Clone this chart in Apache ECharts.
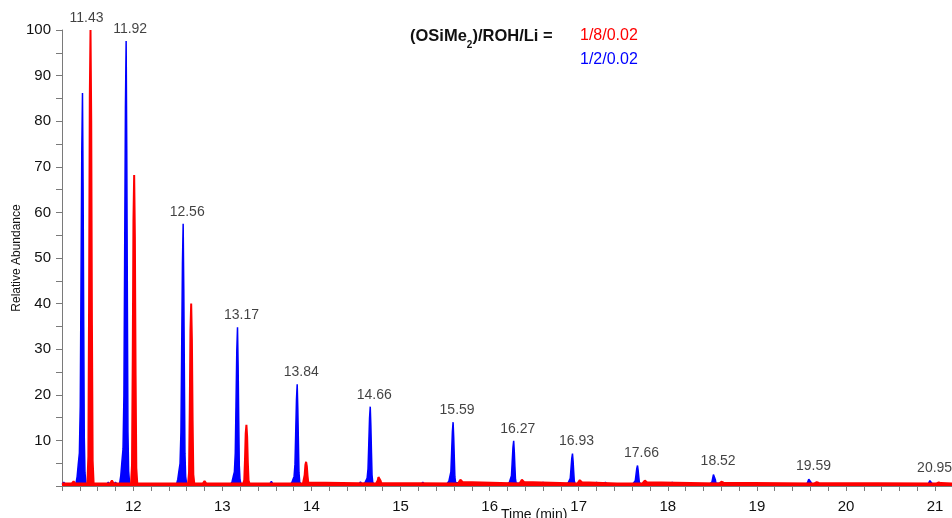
<!DOCTYPE html>
<html>
<head>
<meta charset="utf-8">
<script src="https://cdn.jsdelivr.net/npm/echarts@6/dist/echarts.min.js"></script>
<style>
  html, body { margin: 0; padding: 0; background: #ffffff; }
  #chart { width: 952px; height: 518px; }
</style>
</head>
<body>
<div id="chart"></div>
<script>
// Retention times (min) and apex abundances of the two chromatograms
const blueTimes = [11.43, 11.92, 12.56, 13.17, 13.84, 14.66, 15.59, 16.27, 16.93, 17.66, 18.52, 19.59, 20.95];
const blueApex  = [86.2, 97.6, 57.5, 34.8, 22.3, 17.4, 14.0, 9.9, 7.1, 4.5, 2.9, 1.7, 1.3];
const redTimes  = [11.52, 12.01, 12.65, 13.27, 13.94, 14.76, 15.68, 16.37, 17.02, 17.75, 18.61, 19.68, 21.05];
const redApex   = [100, 68.2, 40.0, 13.4, 5.3, 2.2, 1.5, 1.5, 1.4, 1.3, 1.0, 0.9, 0.8];

// Small baseline bumps (time, abundance)
const blueNoiseTimes = [11.22, 11.72, 11.80, 12.30, 13.55, 14.55, 15.25, 16.60, 17.20, 17.30, 18.05, 18.15];
const blueNoiseApex  = [0.8, 0.8, 0.8, 0.6, 1.0, 0.9, 0.8, 0.8, 0.8, 0.8, 0.8, 0.7];
const redNoiseTimes  = [11.33, 11.76, 12.80, 17.45];
const redNoiseApex   = [1.0, 1.2, 1.1, 0.8];

// Peak profiles: offset from apex (min) and fraction of apex height
const blueProfileDx = [-0.075, -0.06, -0.048, -0.035, -0.025, -0.017, -0.008, 0, 0.007, 0.014, 0.02, 0.028, 0.04];
const blueProfileFr = [0, 0.02, 0.05, 0.08, 0.2, 0.5, 0.85, 1, 0.75, 0.4, 0.12, 0.03, 0];
const redProfileDx  = [-0.035, -0.024, -0.016, -0.008, 0, 0.008, 0.016, 0.024, 0.035];
const redProfileFr  = [0, 0.06, 0.4, 0.85, 1, 0.8, 0.35, 0.05, 0];
const bumpProfileDx = [-0.02, 0, 0.02];
const bumpProfileFr = [0, 1, 0];

const xMin = 11.2, xMax = 21.19;
const blueBase = 0.35, redBase = 0.55;

function buildTrace(base, times, apex, dx, fr, noiseT, noiseA) {
  const pts = [[xMin, base]];
  const add = (t, a, ddx, ffr) => {
    for (let i = 0; i < ddx.length; i++) {
      pts.push([t + ddx[i], base + (a - base) * ffr[i]]);
    }
  };
  times.forEach((t, i) => add(t, apex[i], dx, fr));
  noiseT.forEach((t, i) => add(t, noiseA[i], bumpProfileDx, bumpProfileFr));
  pts.push([xMax, base]);
  pts.sort((a, b) => a[0] - b[0]);
  return pts.filter(p => p[0] >= xMin && p[0] <= xMax);
}

const blueTrace = buildTrace(blueBase, blueTimes, blueApex, blueProfileDx, blueProfileFr, blueNoiseTimes, blueNoiseApex);
const redTrace = buildTrace(redBase, redTimes, redApex, redProfileDx, redProfileFr, redNoiseTimes, redNoiseApex);

// Peak annotations sit above the taller of each blue/red pair
const peakLabels = blueTimes.map((t, i) => [t, Math.max(blueApex[i], redApex[i])]);

const axisGray = '#7a7a7a';
const textColor = '#111111';
const fontFamily = '"Liberation Sans", Arial, sans-serif';

const chart = echarts.init(document.getElementById('chart'), null, { renderer: 'canvas' });
chart.setOption({
  animation: false,
  backgroundColor: '#ffffff',
  grid: { left: 62, top: 30, right: 0, bottom: 32, containLabel: false },
  xAxis: {
    type: 'value',
    min: xMin,
    max: xMax,
    interval: 0.2,
    axisLine: { show: true, lineStyle: { color: axisGray, width: 1 } },
    axisTick: { show: true, length: 5, lineStyle: { color: axisGray } },
    splitLine: { show: false },
    axisLabel: {
      margin: 13,
      color: textColor,
      fontSize: 15,
      fontFamily: fontFamily,
      showMaxLabel: false,
      formatter: function (v) {
        const r = Math.round(v);
        return Math.abs(v - r) < 1e-6 ? String(r) : '';
      }
    }
  },
  yAxis: {
    type: 'value',
    min: 0,
    max: 100,
    interval: 5,
    axisLine: { show: true, lineStyle: { color: axisGray, width: 1 } },
    axisTick: { show: true, length: 6, lineStyle: { color: axisGray } },
    splitLine: { show: false },
    axisLabel: {
      margin: 11,
      color: textColor,
      fontSize: 15,
      fontFamily: fontFamily,
      formatter: function (v) {
        return (v !== 0 && v % 10 === 0) ? String(v) : '';
      }
    }
  },
  series: [
    {
      name: '1/2/0.02',
      type: 'line',
      data: blueTrace,
      showSymbol: false,
      smooth: false,
      lineStyle: { color: '#0000ff', width: 1.5 },
      areaStyle: { color: '#0000ff', opacity: 1 },
      z: 2
    },
    {
      name: '1/8/0.02',
      type: 'line',
      data: redTrace,
      showSymbol: false,
      smooth: false,
      lineStyle: { color: '#ff0000', width: 2 },
      areaStyle: { color: '#ff0000', opacity: 1 },
      z: 3
    },
    {
      name: 'labels',
      type: 'scatter',
      data: peakLabels,
      symbolSize: 0,
      silent: true,
      z: 4,
      label: {
        show: true,
        position: 'top',
        distance: 5,
        offset: [4, 0],
        color: textColor,
        fontSize: 14,
        fontFamily: fontFamily,
        formatter: function (p) { return p.value[0].toFixed(2); }
      }
    }
  ],
  graphic: [
    {
      type: 'text',
      x: 17,
      y: 258,
      rotation: Math.PI / 2,
      style: {
        text: 'Relative Abundance',
        fill: textColor,
        fontSize: 12,
        fontFamily: fontFamily,
        align: 'center',
        verticalAlign: 'middle'
      }
    },
    {
      type: 'text',
      left: 410,
      top: 28,
      style: {
        text: '{b|(OSiMe}{s|2}{b|)/ROH/Li =}',
        rich: {
          b: { fontSize: 16.5, fontWeight: 'bold', fontFamily: fontFamily, fill: textColor, lineHeight: 28, verticalAlign: 'middle' },
          s: { fontSize: 10, fontWeight: 'bold', fontFamily: fontFamily, fill: textColor, lineHeight: 10, verticalAlign: 'bottom' }
        }
      }
    },
    {
      type: 'text',
      left: 580,
      top: 28,
      style: { text: '1/8/0.02', fill: '#ff0000', fontSize: 16, fontFamily: fontFamily }
    },
    {
      type: 'text',
      left: 580,
      top: 52,
      style: { text: '1/2/0.02', fill: '#0000ff', fontSize: 16, fontFamily: fontFamily }
    },
    {
      type: 'text',
      left: 501,
      top: 508,
      style: { text: 'Time (min)', fill: textColor, fontSize: 14, fontFamily: fontFamily }
    }
  ]
});
</script>
</body>
</html>
